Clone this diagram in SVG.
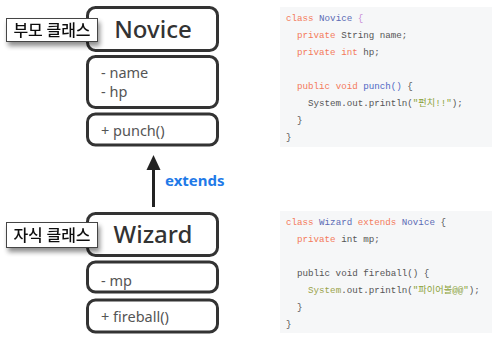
<svg xmlns="http://www.w3.org/2000/svg" width="492" height="350" viewBox="0 0 492 350">
<defs>
<style>
.box{fill:#fff;stroke:#333;stroke-width:3}
.title{font-family:"Noto Sans","Liberation Sans",sans-serif;font-size:24px;font-weight:500;fill:#333;text-anchor:middle}
.member{font-family:"Noto Sans","Liberation Sans",sans-serif;font-size:14.5px;fill:#555}
.tag{fill:#fff;stroke:#444;stroke-width:1}
.tagtext{font-family:"Noto Sans CJK KR","Noto Sans",sans-serif;font-size:16px;font-weight:500;fill:#111;text-anchor:middle}
.codebg{fill:#f6f7f8}
.code{font-family:"Liberation Mono","Noto Sans CJK KR",monospace;font-size:9.2px;fill:#555;white-space:pre}
.kw{fill:#f47a5b}
.cls{fill:#5b6bb5}
.fn{fill:#4f67c4}
.br{fill:#c98ad6}
.str{fill:#8ca33a}
.sys{fill:#9aa34a}
.ext{font-family:"Noto Sans","Liberation Sans",sans-serif;font-size:15px;font-weight:bold;fill:#1f7ae8}
</style>
<filter id="sh" x="-20%" y="-20%" width="140%" height="200%">
<feGaussianBlur in="SourceAlpha" stdDeviation="2.5"/>
<feOffset dx="2" dy="4" result="b"/>
<feComponentTransfer><feFuncA type="linear" slope="0.45"/></feComponentTransfer>
<feMerge><feMergeNode/><feMergeNode in="SourceGraphic"/></feMerge>
</filter>
</defs>
<rect width="492" height="350" fill="#fff"/>

<g id="novice">
<rect class="box" x="87.5" y="7.5" width="130" height="43" rx="8"/>
<text class="title" x="153" y="38">Novice</text>
<rect class="box" x="87.5" y="56.5" width="130" height="51" rx="8"/>
<text class="member" x="101" y="78">- name</text>
<text class="member" x="101" y="97">- hp</text>
<rect class="box" x="87.5" y="114" width="130" height="31" rx="8"/>
<text class="member" x="101" y="136">+ punch()</text>
</g>

<g id="wizard">
<rect class="box" x="87.5" y="213.5" width="130" height="42" rx="8"/>
<text class="title" x="153" y="243">Wizard</text>
<rect class="box" x="87.5" y="262" width="130" height="30" rx="8"/>
<text class="member" x="101" y="286">- mp</text>
<rect class="box" x="87.5" y="300" width="130" height="32" rx="8"/>
<text class="member" x="101" y="322">+ fireball()</text>
</g>

<g id="parent-tag" filter="url(#sh)">
<rect class="tag" x="6.5" y="18.5" width="91" height="23"/>
<text class="tagtext" x="52" y="36">부모 클래스</text>
</g>

<g id="child-tag" filter="url(#sh)">
<rect class="tag" x="6.5" y="222.5" width="91" height="25"/>
<text class="tagtext" x="52" y="241">자식 클래스</text>
</g>

<g id="connectors">
<line x1="153.5" y1="207" x2="153.5" y2="168" stroke="#222" stroke-width="3"/>
<polygon points="146.5,170 160.5,170 153.5,155" fill="#222"/>
<text class="ext" x="165" y="186">extends</text>
</g>

<g id="code-novice">
<rect class="codebg" x="280" y="7" width="212" height="140"/>
<text class="code" x="286" y="21"><tspan class="kw">class</tspan> <tspan class="cls">Novice</tspan> <tspan class="br">{</tspan></text>
<text class="code" x="286" y="38">  <tspan class="kw">private</tspan> String name;</text>
<text class="code" x="286" y="55">  <tspan class="kw">private</tspan> <tspan class="kw">int</tspan> hp;</text>
<text class="code" x="286" y="89">  <tspan class="kw">public</tspan> <tspan class="kw">void</tspan> <tspan class="fn">punch()</tspan> {</text>
<text class="code" x="286" y="106">    System.out.println(<tspan class="str">"펀치!!"</tspan>);</text>
<text class="code" x="286" y="123">  }</text>
<text class="code" x="286" y="140">}</text>
</g>

<g id="code-wizard">
<rect class="codebg" x="280" y="211" width="212" height="122"/>
<text class="code" x="286" y="225"><tspan class="kw">class</tspan> <tspan class="cls">Wizard</tspan> <tspan class="kw">extends</tspan> <tspan class="cls">Novice</tspan> {</text>
<text class="code" x="286" y="242">  <tspan class="kw">private</tspan> int mp;</text>
<text class="code" x="286" y="276">  public void fireball() {</text>
<text class="code" x="286" y="293">    <tspan class="sys">System</tspan>.out.println(<tspan class="str">"파이어볼@@"</tspan>);</text>
<text class="code" x="286" y="310">  }</text>
<text class="code" x="286" y="327">}</text>
</g>
</svg>
